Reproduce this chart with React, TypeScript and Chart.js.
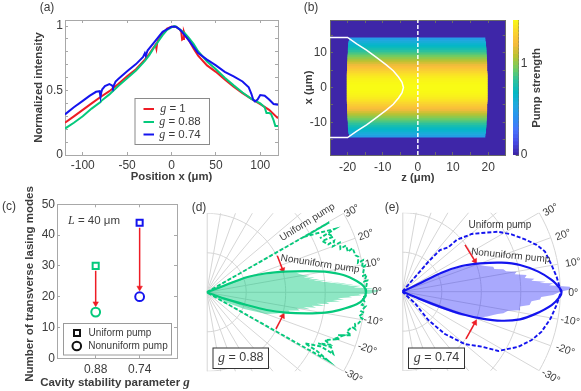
import React, { useEffect, useRef } from "react";
import { Chart, registerables } from "chart.js";

Chart.register(...registerables);

const W = 581;
const H = 391;
const SANS = '"Liberation Sans", Arial, sans-serif';
const SERIF = '"Liberation Serif", serif';
const INK = "#3c3c3c";
const RED = "#ee1c25";
const GREEN = "#05c97c";
const BLUE = "#1414ee";
const FRAME = "#a8a8a8";
const POLAR_GRID = "#d6d6d6";

/* ---------- (a) ---------- */
const redX = [-120,-110,-100,-90,-80,-70,-60,-50,-40,-30,-25,-20,-18,-17,-16,-15,-10,-5,0,5,9,11,12,13,14,15,20,25,30,40,50,60,70,80,90,100,110,120];
const redY = [.25,.3,.35,.4,.45,.495,.55,.61,.665,.74,.785,.835,.855,.825,.875,.89,.94,.98,.995,.995,.975,.955,.895,.9,.955,.935,.885,.825,.77,.695,.645,.585,.53,.48,.435,.395,.35,.285];
const greenX = [-120,-110,-100,-90,-80,-79,-70,-60,-50,-40,-30,-25,-20,-15,-10,-5,0,3,5,10,15,20,25,30,40,50,60,70,80,90,100,105,107,110,112,115,117,120];
const greenY = [.205,.25,.3,.36,.41,.42,.47,.535,.595,.655,.73,.775,.83,.88,.93,.97,.99,1,.995,.97,.945,.905,.86,.805,.725,.665,.6,.54,.485,.435,.4,.37,.325,.325,.32,.27,.225,.225];
const blueX = [-120,-110,-100,-92,-85,-81,-80,-79,-78,-75,-70,-67,-66,-63,-60,-50,-40,-32,-30,-29,-27,-20,-10,0,5,10,20,30,40,50,60,70,80,87,90,92,94,97,100,105,110,115,120];
const blueY = [.315,.37,.42,.46,.49,.495,.45,.49,.51,.535,.55,.54,.525,.57,.59,.65,.705,.76,.79,.77,.81,.87,.955,.995,.995,.97,.885,.79,.74,.695,.645,.61,.57,.525,.475,.43,.415,.43,.465,.46,.43,.395,.39];

/* ---------- (b) ---------- */
const rowOffsets = [0,.5,1,1.5,2,2.5,3,3.5,4,4.5,5,5.5,6,6.5,7,7.5,8,8.5,9,9.5,10,10.5,11,11.5,12,12.5,13,13.5,14];
const rowStrength = [1.48,1.478,1.47,1.46,1.445,1.425,1.4,1.375,1.34,1.305,1.27,1.23,1.185,1.14,1.09,1.04,.99,.945,.895,.845,.8,.75,.705,.66,.62,.58,.54,.505,.47];
const rowStart = [-20.2,-20.2,-20.2,-20.2,-20.2,-20.2,-20.2,-20.2,-20.2,-20.1,-20.1,-20.1,-20.1,-20.1,-20.1,-20,-20,-20,-20,-19.9,-19.9,-19.9,-19.9,-19.8,-19.8,-19.8,-19.6,-19.6,-19.6];
const rowEnd = [19.8,19.8,19.8,19.8,19.8,19.8,19.8,19.8,19.8,19.7,19.7,19.7,19.7,19.7,19.7,19.6,19.6,19.6,19.6,19.5,19.5,19.5,19.5,19.4,19.4,19.4,19.2,19.2,19.2];
const profileZ = [-25,-20,-17.4,-14.6,-11.8,-8.9,-7,-5.5,-4.5,-4.1,-4.5,-5.5,-7,-8.9,-11.8,-14.6,-17.4,-20,-25];
const profileX = [14.3,14.3,12.5,10.7,8.6,6.4,4.8,3,1.5,0,-1.5,-3,-4.8,-6.4,-8.6,-10.7,-12.5,-14.3,-14.3];
const colorbarLevels = [0,.04,.08,.12,.16,.2,.24,.28,.32,.36,.4,.44,.48,.52,.56,.6,.64,.68,.72,.76,.8,.84,.88,.92,.96,1,1.04,1.08,1.12,1.16,1.2,1.24,1.28,1.32,1.36,1.4,1.44,1.48];
const PARULA: number[][] = [[62,38,168],[71,75,231],[72,116,253],[42,145,240],[32,168,224],[2,184,196],[43,193,158],[114,204,97],[185,195,49],[248,186,61],[250,214,46],[249,251,21]];

/* ---------- (c) ---------- */
const cavityLabels = ["0.88", "0.74"];
const cavityPositions = [1, 2];
const uniformModes = [30, 44];
const nonuniformModes = [15, 20];

/* ---------- (d) g = 0.88 ---------- */
const lobeAngleD = [0,20.8,20.6,17.6,14.7,12,9.9,7.2,4.3,2.1,0,-2.2,-4.6,-7.5,-9.75,-11.9,-14.4,-16.4,-17.6,-20,0];
const lobeRadiusD = [0,.113,.27,.398,.517,.647,.76,.872,.952,.996,1.008,.997,.952,.851,.76,.647,.516,.396,.266,.113,0];
const dashAngleD = [29.7,29.7,29.5,28,26.3,25.5,26,23.7,24,21.5,22,20,20.5,18,18.6,16,16.8,14,13.2,11,11.6,9,9.5,7.5,6,6.4,4,4.2,1.5,0,-1.5,-1.8,-3.4,-4.6,-5,-7,-7.4,-9,-9.6,-11.6,-12,-14,-13.4,-15.7,-16.6,-18,-17.4,-20,-19.4,-22,-23,-24.6,-23.8,-26,-25.4,-27.4,-28,-29.4,-29.4];
const dashRadiusD = [0,.893,.715,.8,.906,.794,.85,.875,.8,.827,.87,.85,.9,.89,.93,.93,.965,.97,.986,.975,1.01,.995,1.015,1,.995,1.02,1,1.02,1.008,1.01,1.005,.985,1,.985,1.01,.985,1.005,.975,1,.98,.96,.97,.945,.92,.955,.875,.91,.86,.89,.807,.85,.776,.86,.891,.8,.7,.79,.883,0];
const fillAngleD = [0,26,24,21,17.5,14.5,12.5,11.2,10.1,9.1,8.5,8,7.3,6.7,6.2,5.7,5.2,4.8,4.5,4.2,3.9,3.7,3.3,3,2.7,2.4,1.9,1.3,1,.8,.2,-.5,-.8,-1.2,-1.6,-2,-2.6,-3.1,-3.5,-4,-4.7,-5.5,-6,-6.6,-7.3,-8,-8.7,-9.3,-10,-11,-12.5,-13.7,-15,-17,-20,-24,-27,-28,0];
const fillRadiusD = [0,.05,.15,.25,.38,.5,.58,.6,.62,.66,.62,.69,.65,.72,.68,.76,.72,.8,.76,.85,.81,.888,.85,.93,.89,.98,.93,1.07,.99,1.09,1.08,1.03,.96,.98,.9,.92,.83,.87,.8,.846,.76,.78,.7,.754,.67,.7,.62,.663,.58,.6,.53,.543,.5,.46,.4,.26,.15,.05,0];
const arrowsD = [[.447,.232,.481,.142],[.438,-.232,.481,-.15]];

/* ---------- (e) g = 0.74 ---------- */
const lobeAngleE = [0,25.6,25.8,23.4,19.9,16.3,12.8,8.4,4.5,1.2,0,-1.8,-5.1,-9.6,-13.2,-16.3,-18.8,-20.6,-21.7,-22.6,0];
const lobeRadiusE = [0,.112,.276,.409,.527,.655,.764,.87,.948,.998,1.008,.998,.949,.851,.765,.655,.524,.401,.268,.11,0];
const dashAngleE = [0,48.9,49,47.9,44,43.6,39.8,35.5,32,27.7,23.1,19.2,15.7,10.1,5.6,0,-4.9,-10.2,-16,-20.5,-25.4,-31.7,-34.7,-39.9,-44.8,-47.5,-42.6,0];
const dashRadiusE = [0,.154,.251,.355,.404,.475,.571,.643,.716,.781,.844,.9,.938,.96,.981,1.004,.98,.954,.917,.874,.813,.714,.611,.517,.38,.243,.11,0];
const fillAngleE = [0,27,25.5,23,20,19,17.2,15.4,13.9,12.5,11.2,9.9,8.8,7.6,6.4,5.6,4.8,4,3.6,3.2,2.5,1.7,.8,0,-1.3,-2.2,-3.2,-4.2,-6,-7.2,-8.9,-10.2,-12,-13.2,-14.4,-16.2,-18.3,-20,-22,-25,0];
const fillRadiusE = [0,.1,.27,.4,.5,.52,.55,.597,.6,.655,.67,.734,.72,.794,.78,.84,.82,.91,.87,.957,.93,1.06,1.07,1,.955,.88,.873,.82,.81,.75,.755,.68,.654,.62,.594,.56,.518,.46,.4,.2,0];
const arrowsE = [[.397,.296,.46,.194],[.403,-.299,.46,-.196]];

const arcRadii = [.25,.5,.75,1];
const rayAngles = [-90,-80,-70,-60,-50,-40,-30,-20,-10,0,10,20,30,40,50,60,70,80,90];

/* ---------- helpers ---------- */
type Run = { t: string; f: string };
type Label = { runs: Run[]; x: number; y: number; rot?: number; color?: string };
const plain = (s: number, b = false) => `${b ? "bold " : ""}${s}px ${SANS}`;
const ital = (s: number, b = false) => `italic ${b ? "bold " : ""}${s}px ${SERIF}`;
const label = (t: string, x: number, y: number, s = 11, b = false, rot = 0): Label => ({ runs: [{ t, f: plain(s, b) }], x, y, rot });

const parula = (t: number) => {
  const p = Math.max(0, Math.min(1, t)) * (PARULA.length - 1);
  const i = Math.min(PARULA.length - 2, Math.floor(p));
  const f = p - i;
  const c = PARULA[i].map((v, k) => Math.round(v + (PARULA[i + 1][k] - v) * f));
  return `rgb(${c[0]},${c[1]},${c[2]})`;
};
const zip = (xs: number[], ys: number[]) => xs.map((x, i) => ({ x, y: ys[i] }));
const polar = (deg: number, r: number) => ({ x: r * Math.cos((deg * Math.PI) / 180), y: r * Math.sin((deg * Math.PI) / 180) });
const polarLine = (a: number[], r: number[]) => a.map((d, i) => polar(d, r[i]));

const lineDs = (label: string, data: any[], color: string, width = 2, extra: any = {}) => ({
  type: "scatter", label, data, showLine: true, pointRadius: 0, borderColor: color, borderWidth: width, fill: false, tension: 0, ...extra,
});
const arrowDs = (x0: number, y0: number, x1: number, y1: number, rot: number) =>
  lineDs("arrow", [{ x: x0, y: y0 }, { x: x1, y: y1 }], RED, 1.5, {
    pointRadius: [0, 3.2], pointStyle: "triangle", pointRotation: [0, rot], pointBackgroundColor: RED, pointBorderColor: RED, pointBorderWidth: 0.5,
  });

const overlay = {
  id: "overlay",
  beforeDraw(chart: any, _a: any, o: any) {
    if (o.plotBg) {
      const { left, top, width, height } = chart.chartArea;
      chart.ctx.save();
      chart.ctx.fillStyle = o.plotBg;
      chart.ctx.fillRect(left, top, width, height);
      chart.ctx.restore();
    }
  },
  beforeDatasetDraw(chart: any, args: any) {
    const ds = chart.data.datasets[args.index];
    if (!ds.polyColor) return;
    const ctx = chart.ctx;
    const a = chart.chartArea;
    ctx.save();
    ctx.beginPath();
    ctx.rect(a.left, a.top, a.width, a.height);
    ctx.clip();
    ctx.beginPath();
    args.meta.data.forEach((p: any, i: number) => (i ? ctx.lineTo(p.x, p.y) : ctx.moveTo(p.x, p.y)));
    ctx.closePath();
    ctx.fillStyle = ds.polyColor;
    ctx.fill();
    ctx.restore();
  },
  afterDraw(chart: any, _a: any, o: any) {
    const ctx = chart.ctx;
    ctx.save();
    for (const b of o.boxes || []) {
      ctx.fillStyle = "#fff";
      ctx.strokeStyle = b.color;
      ctx.lineWidth = b.width || 1;
      ctx.fillRect(b.x0, b.y0, b.x1 - b.x0, b.y1 - b.y0);
      ctx.strokeRect(b.x0, b.y0, b.x1 - b.x0, b.y1 - b.y0);
    }
    for (const k of o.keys || []) {
      ctx.strokeStyle = k.color;
      ctx.lineWidth = k.width || 2;
      ctx.beginPath();
      if (k.kind === "square") ctx.rect(k.x0, k.y - k.s, 2 * k.s, 2 * k.s);
      else if (k.kind === "circle") ctx.arc(k.x0 + k.s, k.y, k.s, 0, Math.PI * 2);
      else { ctx.moveTo(k.x0, k.y); ctx.lineTo(k.x1, k.y); }
      ctx.stroke();
    }
    ctx.textBaseline = "middle";
    ctx.textAlign = "left";
    for (const l of (o.labels || []) as Label[]) {
      let total = 0;
      for (const r of l.runs) { ctx.font = r.f; total += ctx.measureText(r.t).width; }
      ctx.save();
      ctx.translate(l.x, l.y);
      ctx.rotate(((l.rot || 0) * Math.PI) / 180);
      ctx.fillStyle = l.color || INK;
      let x = -total / 2;
      for (const r of l.runs) { ctx.font = r.f; ctx.fillText(r.t, x, 0); x += ctx.measureText(r.t).width; }
      ctx.restore();
    }
    ctx.restore();
  },
};
Chart.register(overlay as any);

const axis = (o: any) => {
  const horizontal = o.position === "bottom" || o.position === "top";
  return {
    type: "linear", position: o.position, min: o.min, max: o.max,
    afterFit: (s: any) => { if (horizontal) s.height = o.size; else s.width = o.size; },
    afterBuildTicks: o.ticks ? (s: any) => { s.ticks = o.ticks.map((value: number) => ({ value })); } : undefined,
    grid: { drawOnChartArea: false, drawTicks: true, tickLength: -3, tickColor: o.tickColor || FRAME, color: o.tickColor || FRAME, lineWidth: 1 },
    border: { display: true, color: o.frame || FRAME, width: 1 },
    ticks: {
      display: !!o.label, stepSize: o.step, includeBounds: false, autoSkip: false, maxRotation: 0, minRotation: 0,
      padding: o.pad, color: INK, font: { family: SANS, size: 12 }, callback: o.label || (() => ""),
    },
    title: o.title ? { display: true, text: o.title, color: INK, padding: 0, font: { family: SANS, size: 11.3, weight: "bold" } } : { display: false },
  };
};

const frameScales = (r: any) => ({
  x: axis({ position: "bottom", size: r.h, pad: r.xPad, label: r.xLabel, title: r.xTitle, min: r.xMin, max: r.xMax, step: r.xStep, ticks: r.xTicks, tickColor: r.tickColor, frame: r.frame }),
  y: axis({ position: "left", size: r.w, pad: r.yPad, label: r.yLabel, title: r.yTitle, min: r.yMin, max: r.yMax, step: r.yStep, ticks: r.yTicks, tickColor: r.tickColor, frame: r.frame }),
  xt: axis({ position: "top", size: 0, min: r.xMin, max: r.xMax, step: r.xStep, ticks: r.xTicks, tickColor: r.tickColor, frame: r.frame }),
  yr: axis({ position: "right", size: 0, min: r.yMin, max: r.yMax, step: r.yStep, ticks: r.yTicks, tickColor: r.tickColor, frame: r.frame }),
});

const config = (datasets: any[], scales: any, padding: any, plugin: any) => ({
  type: "scatter",
  data: { datasets },
  options: {
    animation: false, responsive: false, devicePixelRatio: 1,
    layout: { padding },
    scales,
    plugins: { legend: { display: false }, tooltip: { enabled: false }, title: { display: false }, overlay: plugin },
    elements: { line: { capBezierPoints: false, borderCapStyle: "butt" } },
  },
});

/* ---------- panels ---------- */
const panelA = () => config(
  [
    lineDs("g = 0.74", zip(blueX, blueY), BLUE),
    lineDs("g = 0.88", zip(greenX, greenY), GREEN),
    lineDs("g = 1", zip(redX, redY), RED),
  ],
  frameScales({
    h: 28.6, w: 32.6, xPad: 6, yPad: 5, xMin: -120, xMax: 120, xStep: 50, xTicks: [-100,-50,0,50,100], xLabel: (v: number) => `${v}`,
    yMin: 0, yMax: 1.047, yStep: .1, yTicks: [0,.1,.2,.3,.4,.5,.6,.7,.8,.9,1],
    yLabel: (v: number) => (v === 0 ? "0" : v === .5 ? "0.5" : v === 1 ? "1" : ""),
    xTitle: "Position x (μm)", yTitle: "Normalized intensity",
  }),
  { left: 65 - 32.6, right: W - 278, top: 20, bottom: H - 155 - 28.6 },
  {
    boxes: [{ x0: 135, y0: 98.5, x1: 209.5, y1: 144.5, color: "#8a8a8a" }],
    keys: [
      { x0: 143.5, x1: 154, y: 109, color: RED },
      { x0: 143.5, x1: 154, y: 122, color: GREEN },
      { x0: 143.5, x1: 154, y: 134.5, color: BLUE },
    ],
    labels: [
      label("(a)", 47, 8, 12),
      { runs: [{ t: "g", f: ital(12) }, { t: " = 1", f: plain(11.5) }], x: 173, y: 109 },
      { runs: [{ t: "g", f: ital(12) }, { t: " = 0.88", f: plain(11.5) }], x: 180, y: 122 },
      { runs: [{ t: "g", f: ital(12) }, { t: " = 0.74", f: plain(11.5) }], x: 180, y: 134.5 },
    ],
  },
);

const panelB = () => {
  const rows: any[] = [];
  rowOffsets.forEach((o, i) => {
    const color = parula(rowStrength[i] / 1.48);
    const width = o >= 13.5 ? 2.2 : 5;
    rows.push(lineDs("row", [{ x: rowStart[i], y: o }, { x: rowEnd[i], y: o }], color, width));
    if (o) rows.push(lineDs("row", [{ x: rowStart[i], y: -o }, { x: rowEnd[i], y: -o }], color, width));
  });
  return config(
    [
      lineDs("axis", [{ x: 0, y: -19.3 }, { x: 0, y: 19.3 }], "#fff", 1.5, { borderDash: [4, 2] }),
      lineDs("profile", zip(profileZ, profileX), "#fff", 1.5),
      ...rows,
    ],
    frameScales({
      h: 29.3, w: 27.6, xPad: 8, yPad: 6, xMin: -25, xMax: 25, xStep: 5, xTicks: [-20,-15,-10,-5,0,5,10,15,20],
      xLabel: (v: number) => (v % 10 === 0 ? `${v}` : ""),
      yMin: -19.3, yMax: 19.3, yStep: 5, yTicks: [-15,-10,-5,0,5,10,15], yLabel: (v: number) => (v % 10 === 0 ? `${v}` : ""),
      xTitle: "z (μm)", yTitle: "x (μm)", tickColor: "#6a6a6a", frame: "#6a6a6a",
    }),
    { left: 330 - 27.6, right: W - 505.7, top: 20, bottom: H - 155 - 29.3 },
    { plotBg: parula(0), labels: [label("(b)", 311, 8, 12)] },
  );
};

const panelBar = () => config(
  colorbarLevels.map((v) => lineDs("level", [{ x: 0, y: v }, { x: 1, y: v }], parula(v / 1.48), 5)),
  {
    x: { type: "linear", display: false, min: 0, max: 1 },
    y: axis({ position: "right", size: 20, pad: 5, min: 0, max: 1.48, step: .5, ticks: [0,.5,1], label: (v: number) => (v === .5 ? "" : `${v}`), tickColor: "#6a6a6a", frame: "#6a6a6a" }),
  },
  { left: 513, right: W - 518.7 - 20, top: 20, bottom: H - 155 },
  { labels: [label("Pump strength", 537, 88, 11.3, true, -90)] },
);

const panelC = () => config(
  [
    lineDs("Uniform pump", zip(cavityPositions, uniformModes), GREEN, 0, {
      showLine: false, pointStyle: "rect", pointRadius: 4.3, pointBorderWidth: 2, pointBackgroundColor: "#fff", pointBorderColor: [GREEN, BLUE],
    }),
    lineDs("Nonuniform pump", zip(cavityPositions, nonuniformModes), GREEN, 0, {
      showLine: false, pointStyle: "circle", pointRadius: 4.4, pointBorderWidth: 2, pointBackgroundColor: "#fff", pointBorderColor: [GREEN, BLUE],
    }),
    arrowDs(1, 28.4, 1, 17.8, 180),
    arrowDs(2, 42.4, 2, 22.9, 180),
  ],
  frameScales({
    h: 20, w: 20, xPad: 7, yPad: 5, xMin: .12, xMax: 2.85, xTicks: cavityPositions,
    xLabel: (v: number) => cavityLabels[cavityPositions.indexOf(v)] ?? "",
    yMin: 0, yMax: 50, yStep: 10, yTicks: [0,10,20,30,40,50], yLabel: (v: number) => `${v}`,
  }),
  { left: 57 - 20, right: W - 177, top: 204.3, bottom: H - 358.3 - 20 },
  {
    boxes: [{ x0: 63.5, y0: 323.5, x1: 171.5, y1: 355, color: "#9a9a9a" }],
    keys: [
      { kind: "square", x0: 74, y: 333, s: 3, color: "#111" },
      { kind: "circle", x0: 72.5, y: 346, s: 4.3, color: "#111" },
    ],
    labels: [
      label("(c)", 9, 207, 12),
      label("Uniform pump", 120, 333, 10),
      label("Nonuniform pump", 128, 346, 10),
      { runs: [{ t: "L", f: ital(12) }, { t: " = 40 μm", f: plain(11.5) }], x: 94, y: 221 },
      label("Number of transverse lasing modes", 30, 284, 11.5, true, -90),
      { runs: [{ t: "Cavity stability parameter ", f: plain(11.5, true) }, { t: "g", f: ital(13, true) }], x: 115, y: 383 },
    ],
  },
);

const polarGrid = () => {
  const sweep = [-90,-85,-80,-75,-70,-65,-60,-55,-50,-45,-40,-35,-30,-25,-20,-15,-10,-5,0,5,10,15,20,25,30,35,40,45,50,55,60,65,70,75,80,85,90];
  return [
    ...arcRadii.map((r) => lineDs("arc", sweep.map((a) => polar(a, r)), POLAR_GRID, 1, { tension: .3 })),
    ...rayAngles.map((a) => lineDs("ray", [polar(a, 0), polar(a, 1)], POLAR_GRID, a === 90 || a === -90 ? 2 : 1)),
  ];
};
const arrowRot = (a: number[]) => (Math.atan2(a[2] - a[0], a[3] - a[1]) * 180) / Math.PI;

const panelPolar = (p: any) => config(
  [
    lineDs("Nonuniform pump", polarLine(p.lobeA, p.lobeR), p.color, 2.2, { tension: .25 }),
    lineDs("Uniform pump", polarLine(p.dashA, p.dashR), p.color, 1.9, { borderDash: [4, 2] }),
    ...p.arrows.map((a: number[]) => arrowDs(a[0], a[1], a[2], a[3], arrowRot(a))),
    lineDs("Emission", polarLine(p.fillA, p.fillR), p.color, 0, { showLine: false, polyColor: p.fill }),
    ...polarGrid(),
  ],
  { x: { type: "linear", display: false, min: 0, max: 1.1 }, y: { type: "linear", display: false, min: -.5, max: .5 } },
  { left: p.cx, right: W - p.cx - 173.8, top: p.cy - 79, bottom: H - p.cy - 79 },
  {
    boxes: [{ ...p.box, color: "#333", width: 1 }],
    labels: [
      label(p.tag, p.tagX, 207.5, 12),
      { runs: [{ t: "g", f: ital(14) }, { t: p.gText, f: plain(12.5) }], x: (p.box.x0 + p.box.x1) / 2, y: 358 },
      ...p.labels,
    ],
  },
);

const panelD = () => panelPolar({
  cx: 206.7, cy: 292.3, color: GREEN, fill: "rgba(5,201,124,0.45)", lobeA: lobeAngleD, lobeR: lobeRadiusD, dashA: dashAngleD, dashR: dashRadiusD,
  fillA: fillAngleD, fillR: fillRadiusD, arrows: arrowsD, tag: "(d)", tagX: 199, gText: " = 0.88",
  box: { x0: 213, y0: 348, x1: 268.5, y1: 368.5 },
  labels: [
    label("Uniform pump", 307.3, 222.3, 10, false, -32),
    label("Nonuniform pump", 320, 264, 10, false, 8.6),
    label("30°", 352, 211, 10.5, false, -30),
    label("20°", 366, 235, 10.5, false, -20),
    label("10°", 373, 263, 10.5, false, -10),
    label("0°", 377, 292, 10.5),
    label("-10°", 373, 321, 10.5, false, 10),
    label("-20°", 367, 349, 10.5, false, 20),
    label("-30°", 353, 376, 10.5, false, 30),
  ],
});

const panelE = () => panelPolar({
  cx: 402.3, cy: 291.7, color: BLUE, fill: "rgba(40,40,250,0.4)", lobeA: lobeAngleE, lobeR: lobeRadiusE, dashA: dashAngleE, dashR: dashRadiusE,
  fillA: fillAngleE, fillR: fillRadiusE, arrows: arrowsE, tag: "(e)", tagX: 392, gText: " = 0.74",
  box: { x0: 408.5, y0: 348, x1: 464.5, y1: 368.5 },
  labels: [
    label("Uniform pump", 500, 225, 10),
    label("Nonuniform pump", 510.7, 255.7, 10, false, 5.6),
    label("30°", 550.7, 210, 10.5, false, -30),
    label("20°", 563.3, 235, 10.5, false, -20),
    label("10°", 573, 262.7, 10.5, false, -10),
    label("0°", 573.3, 292.7, 10.5),
    label("-10°", 570, 321, 10.5, false, 10),
    label("-20°", 565, 350, 10.5, false, 20),
    label("-30°", 550.7, 376.7, 10.5, false, 30),
  ],
});

const panels = [panelA, panelB, panelBar, panelC, panelD, panelE];

export default function App() {
  const refs = useRef<(HTMLCanvasElement | null)[]>([]);
  useEffect(() => {
    const charts = panels.map((p, i) => new Chart(refs.current[i] as HTMLCanvasElement, p() as any));
    return () => charts.forEach((c) => c.destroy());
  }, []);
  return (
    <div style={{ position: "fixed", left: 0, top: 0, width: W, height: H, background: "#fff", overflow: "hidden" }}>
      {panels.map((_, i) => (
        <canvas
          key={i}
          ref={(el) => { refs.current[i] = el; }}
          width={W}
          height={H}
          style={{ position: "absolute", left: 0, top: 0, display: "block" }}
        />
      ))}
    </div>
  );
}
